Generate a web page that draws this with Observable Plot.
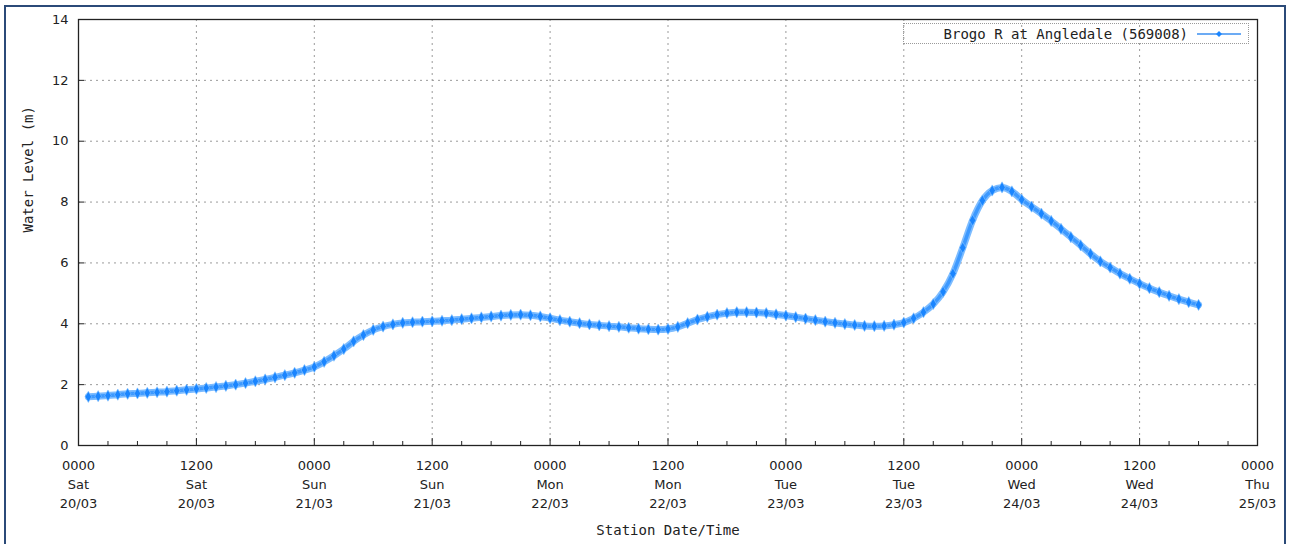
<!DOCTYPE html>
<html>
<head>
<meta charset="utf-8">
<script src="https://cdn.jsdelivr.net/npm/d3@7"></script>
<script src="https://cdn.jsdelivr.net/npm/@observablehq/plot@0.6"></script>
<style>
  html, body { margin: 0; padding: 0; background: #fff; overflow: hidden; }
  #wrap { position: relative; width: 1293px; height: 544px; }
  #border { position: absolute; left: 4px; top: 5px; width: 1282px; height: 560px; border: 2px solid #2b4a78; box-sizing: border-box; pointer-events: none; }
  #legend { position: absolute; left: 903px; top: 23px; width: 346px; height: 21px; border: 1px dotted #9a9a9a; box-sizing: border-box;
            font-family: "DejaVu Sans Mono", monospace; font-size: 14px; color: #222; display: flex; align-items: center; justify-content: flex-end; padding-right: 6px; }
  #legend svg { margin-left: 8px; }
</style>
</head>
<body>
<div id="wrap">
  <div id="chart"></div>
  <div id="legend"><span id="legtext"></span><svg width="46" height="10"><line x1="1" y1="5" x2="45" y2="5" stroke="#3b8ff0" stroke-width="1.5"/><path d="M23,2 L26,5 L23,8 L20,5 Z" fill="#1a85ff"/></svg></div>
  <div id="border"></div>
</div>
<script>
// Series: hours after 0000 Sat 20/03 and water level (m)
const seriesName = "Brogo R at Angledale (569008)";
const startDate = "2021-03-20T00:00:00Z";
const hours = [1,2,3,4,5,6,7,8,9,10,11,12,13,14,15,16,17,18,19,20,21,22,23,24,25,26,27,28,29,30,
  31,32,33,34,35,36,37,38,39,40,41,42,43,44,45,46,47,48,49,50,51,52,53,54,55,56,57,58,59,60,
  61,62,63,64,65,66,67,68,69,70,71,72,73,74,75,76,77,78,79,80,81,82,83,84,85,86,87,88,89,90,
  91,92,93,94,95,96,97,98,99,100,101,102,103,104,105,106,107,108,109,110,111,112,113,114];
const levels = [1.60,1.62,1.64,1.67,1.70,1.71,1.73,1.75,1.77,1.80,1.83,1.86,1.89,1.92,1.96,2.00,2.05,2.11,2.17,2.24,
  2.31,2.39,2.48,2.58,2.75,2.95,3.17,3.42,3.63,3.80,3.91,3.98,4.03,4.05,4.07,4.08,4.10,4.12,4.15,4.18,
  4.21,4.24,4.27,4.29,4.30,4.28,4.24,4.18,4.12,4.07,4.02,3.98,3.95,3.92,3.90,3.87,3.84,3.82,3.81,3.83,
  3.90,4.02,4.14,4.23,4.30,4.35,4.38,4.38,4.37,4.35,4.31,4.27,4.22,4.17,4.12,4.07,4.03,3.99,3.96,3.93,
  3.92,3.93,3.97,4.04,4.18,4.38,4.65,5.05,5.65,6.50,7.40,8.05,8.38,8.48,8.35,8.08,7.85,7.62,7.38,7.12,
  6.85,6.58,6.30,6.05,5.85,5.65,5.48,5.32,5.17,5.04,4.92,4.81,4.71,4.62];
const yTicks = [0,2,4,6,8,10,12,14];
const xLabel = "Station Date/Time";
const yLabel = "Water Level (m)";

const t0 = new Date(startDate);
const t1 = d3.utcDay.offset(t0, 5);
const data = hours.map((h, i) => ({date: d3.utcHour.offset(t0, h), level: levels[i]}));
const majorX = d3.utcHour.every(12).range(t0, d3.utcHour.offset(t1, 1));
const minorX = d3.utcHour.every(3).range(t0, t1).filter(d => d.getUTCHours() % 12 !== 0);
const gridXTicks = majorX.filter(d => +d !== +t0 && +d !== +t1);
const gridYTicks = yTicks.filter(v => v !== 0 && v !== 14);
const fmt = d3.utcFormat("%H%M\n%a\n%d/%m");

document.getElementById("legtext").textContent = seriesName;

const chart = Plot.plot({
  width: 1293,
  height: 544,
  marginLeft: 78,
  marginRight: 36,
  marginTop: 19,
  marginBottom: 99,
  style: {fontFamily: "DejaVu Sans, sans-serif", fontSize: "13px", color: "#222", background: "transparent"},
  x: {type: "utc", domain: [t0, t1]},
  y: {domain: [0, 14]},
  marks: [
    Plot.gridY(gridYTicks, {stroke: "#9a9a9a", strokeOpacity: 1, strokeDasharray: "2,4"}),
    Plot.gridX(gridXTicks, {stroke: "#9a9a9a", strokeOpacity: 1, strokeDasharray: "2,4"}),
    Plot.axisY(yTicks, {tickSize: 0, tickPadding: 10, label: null, fontSize: 13}),
    Plot.axisY(yTicks.slice(1, -1), {tickSize: -6, tickFormat: () => "", label: null, stroke: "#222"}),
    Plot.axisX(majorX, {tickSize: 0, tickPadding: 11, tickFormat: fmt, lineHeight: 1.45, label: null, fontSize: 13}),
    Plot.axisX(gridXTicks, {tickSize: -7, tickFormat: () => "", label: null, stroke: "#222"}),
    Plot.axisX(minorX, {tickSize: -4, tickFormat: () => "", label: null, stroke: "#222"}),
    Plot.line(data, {x: "date", y: "level", stroke: "#7dbcff", strokeWidth: 7, curve: "monotone-x"}),
    Plot.line(data, {x: "date", y: "level", stroke: "#3d99ff", strokeWidth: 3.5, curve: "monotone-x"}),
    Plot.dot(data, {x: "date", y: "level", symbol: "diamond", r: 3.4, fill: "#1a85ff", stroke: "#8cc6ff", strokeWidth: 0.6}),
    Plot.frame({stroke: "#222", strokeWidth: 1.3}),
    Plot.text([xLabel], {frameAnchor: "bottom", dy: 89, fontFamily: "DejaVu Sans Mono, monospace", fontSize: 14, fill: "#222"}),
    Plot.text([yLabel], {frameAnchor: "left", dx: -50, dy: 0, rotate: -90, fontFamily: "DejaVu Sans Mono, monospace", fontSize: 14, fill: "#222"})
  ]
});
document.getElementById("chart").appendChild(chart);
</script>
</body>
</html>
